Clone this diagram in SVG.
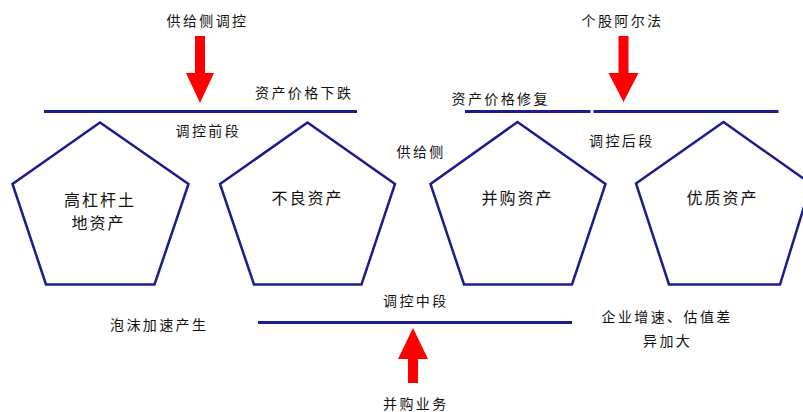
<svg xmlns="http://www.w3.org/2000/svg" width="803" height="412" viewBox="0 0 803 412">
<style>
.pent{fill:none;stroke:#1c1c8c;stroke-width:2.5;stroke-linejoin:miter}
.bar{stroke:#1c1c8c;stroke-width:3}
.arr{fill:#ff0000}
.t{font-family:"Noto Sans CJK SC","Noto Sans",sans-serif;font-size:14px;letter-spacing:2.4px;fill:#111}
.tn{font-family:"Noto Sans CJK SC","Noto Sans",sans-serif;font-size:16px;letter-spacing:2px;fill:#111}
</style>
<rect width="803" height="412" fill="#fff"/>
<g id="connectors">
<line class="bar" x1="44" y1="111.5" x2="357" y2="111.5"/>
<line class="bar" x1="465" y1="111.5" x2="590.5" y2="111.5"/>
<line class="bar" x1="593.5" y1="111.5" x2="778.5" y2="111.5"/>
<line class="bar" x1="258" y1="322.5" x2="572" y2="322.5"/>
<polygon class="arr" points="195,36 205,36 205,73 214,73 200,103 186,73 195,73"/>
<polygon class="arr" points="618.5,36 628.5,36 628.5,73 638.5,73 623.5,102 608.5,73 618.5,73"/>
<polygon class="arr" points="408,383 418,383 418,359 428,359 413,328 398,359 408,359"/>
</g>
<g id="node-p1">
<polygon class="pent" points="100,122.5 188.5,184 154.5,284.5 46,284.5 12.5,184"/>
<text class="tn" x="64" y="206">高杠杆土</text>
<text class="tn" x="71.5" y="229">地资产</text>
</g>
<g id="node-p2">
<polygon class="pent" points="307.5,122.5 395,184 361.5,284.5 254,284.5 220,184"/>
<text class="tn" x="271.5" y="204">不良资产</text>
</g>
<g id="node-p3">
<polygon class="pent" points="517.5,122 605.5,184 572,284.5 464,284.5 430.5,184"/>
<text class="tn" x="481.5" y="204">并购资产</text>
</g>
<g id="node-p4">
<polygon class="pent" points="723.5,122 811,184 780,284.5 669,284.5 636,183.5"/>
<text class="tn" x="686.5" y="204">优质资产</text>
</g>
<g id="labels">
<text class="t" x="166.5" y="25.5">供给侧调控</text>
<text class="t" x="255" y="98">资产价格下跌</text>
<text class="t" x="175.5" y="136">调控前段</text>
<text class="t" x="581.5" y="25.5">个股阿尔法</text>
<text class="t" x="451.5" y="103.5">资产价格修复</text>
<text class="t" x="589" y="146">调控后段</text>
<text class="t" x="396.5" y="157">供给侧</text>
<text class="t" x="383" y="306">调控中段</text>
<text class="t" x="110" y="329.5">泡沫加速产生</text>
<text class="t" x="601.5" y="321.5">企业增速、估值差</text>
<text class="t" x="643" y="345.5">异加大</text>
<text class="t" x="383" y="409">并购业务</text>
</g>
</svg>
